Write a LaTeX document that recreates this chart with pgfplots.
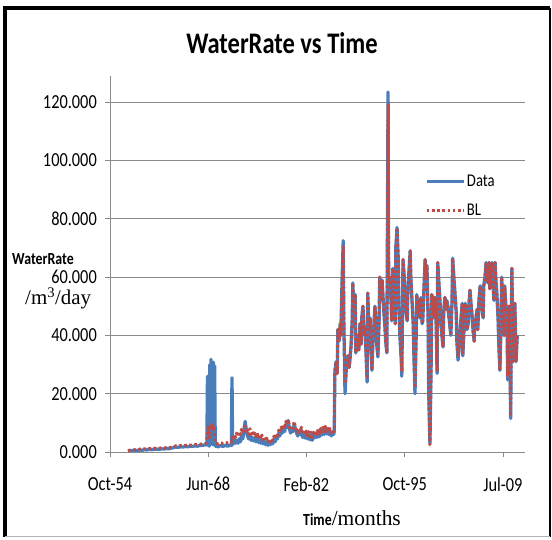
\documentclass[border=0pt]{standalone}
\usepackage{fontspec}
\setmainfont{Carlito}[FakeStretch=0.82]
\newfontfamily\serif{Liberation Serif}
\usepackage{pgfplots}
\pgfplotsset{compat=1.18}
\usepackage{pgfplotstable}

\definecolor{datablue}{HTML}{4A7EBB}
\definecolor{blred}{HTML}{BE4B48}
\definecolor{gridgray}{HTML}{898989}

% monthly water rate (m^3/day), months counted from Oct-54
\pgfplotstableread{
m data bl
30 0.3 0.5
34 0.5 0.6
38 0.4 0.7
42 0.6 0.8
46 0.5 0.8
50 0.7 1.0
54 0.6 0.9
58 0.8 1.1
62 0.7 1.0
66 0.9 1.2
70 0.8 1.1
74 0.9 1.3
78 1.0 1.2
82 0.9 1.3
86 1.1 1.4
90 1.0 1.3
94 1.2 1.5
98 1.1 1.4
102 1.3 1.6
106 1.5 1.9
110 1.7 2.1
114 1.6 2.0
118 1.8 2.2
122 1.7 2.1
126 1.9 2.3
130 1.8 2.2
134 2.0 2.4
138 1.9 2.3
142 2.1 2.5
146 2.0 2.5
150 2.2 2.6
154 2.3 2.8
158 2.4 2.9
161 2.5 3.0
162 2.4 4.5
163 26.0 7.5
164 2.2 8.5
165 25.0 6.5
166 2.0 5.0
167 30.0 8.5
168 2.5 9.0
169 31.8 8.0
170 3.0 9.5
171 30.5 8.5
172 2.5 8.0
173 30.8 9.0
174 3.0 7.5
175 29.5 5.0
176 2.0 3.5
177 2.0 3.0
181 1.8 2.8
185 2.2 3.2
189 1.9 2.9
193 2.3 3.3
197 2.0 3.1
201 2.4 3.4
203 2.2 3.3
204 25.5 5.0
205 2.5 4.0
206 3.0 4.5
208 4.5 6.0
210 3.0 5.0
212 4.0 6.5
214 3.0 5.5
216 4.5 7.0
218 3.5 6.0
220 5.5 7.8
222 4.5 6.8
224 7.0 8.5
226 10.5 8.8
228 7.5 7.0
230 5.5 8.0
232 4.5 6.0
234 6.0 8.0
236 4.0 6.0
238 5.0 7.0
240 3.8 5.5
242 4.8 6.5
244 3.5 5.2
246 4.8 6.5
248 3.3 4.8
250 4.3 6.0
252 3.0 4.5
254 4.2 5.8
256 2.8 4.2
258 3.8 5.2
260 2.5 3.8
262 3.5 4.8
264 2.3 3.5
266 3.3 4.5
268 2.5 3.5
270 3.5 4.6
272 2.8 4.0
274 4.2 5.4
276 3.5 4.5
278 5.0 6.2
280 4.5 5.5
282 6.5 7.5
284 5.5 6.5
286 7.5 8.5
288 6.5 7.5
290 8.5 9.5
292 7.0 8.0
294 9.5 10.5
296 8.5 9.5
298 10.8 11.2
300 8.0 8.5
302 6.5 7.5
304 8.0 9.0
306 7.0 8.0
308 9.5 10.5
310 8.0 8.5
312 6.5 7.5
314 5.5 6.5
316 7.0 8.0
318 6.0 7.0
320 7.5 8.5
322 5.0 6.0
324 6.5 7.5
326 4.8 5.8
328 6.2 7.2
330 4.5 5.5
332 6.0 7.0
334 4.2 5.2
336 5.8 6.8
338 4.0 5.0
340 6.0 6.8
342 4.8 5.8
344 6.5 7.2
346 5.0 6.0
348 7.0 7.8
350 5.2 6.2
352 7.2 8.0
354 5.8 6.8
356 7.8 8.5
358 6.0 7.0
360 8.2 8.8
362 6.2 7.0
364 7.8 8.5
366 6.0 7.0
368 7.2 8.0
370 5.5 6.5
372 6.8 7.5
374 6.0 7.0
375 7.0 7.5
376 27.0 28.0
378 31.0 31.0
380 27.0 27.0
381 42.0 42.0
383 38.0 38.0
385 44.0 44.0
386 40.0 40.0
388 58.0 58.0
390 72.5 70.5
391 45.0 45.0
393 20.0 23.5
395 28.0 28.0
396 30.0 30.0
398 33.0 33.0
400 29.0 29.0
401 31.0 32.0
403 36.0 36.0
405 45.0 45.0
406 58.0 58.0
408 48.0 48.0
410 54.0 54.0
411 34.0 34.0
413 38.0 38.0
415 40.0 40.0
416 35.0 35.0
418 44.0 44.0
420 37.0 37.0
421 46.0 46.0
423 50.0 50.0
425 40.0 40.0
426 43.0 43.0
428 35.0 35.0
430 24.0 25.0
431 54.5 54.5
433 42.0 42.0
435 46.0 46.0
436 36.0 36.0
438 28.0 28.0
440 40.0 40.0
441 42.0 42.0
443 50.0 50.0
445 44.0 44.0
446 37.0 37.0
448 32.6 33.5
450 45.0 45.0
451 60.0 60.0
453 52.0 52.0
455 59.0 59.0
456 55.0 55.0
458 48.0 48.0
460 42.0 42.0
461 38.0 38.0
463 34.0 34.0
465 123.5 119.5
466 58.0 58.0
468 60.0 60.0
470 52.0 52.0
471 45.0 45.0
473 63.0 63.0
475 55.0 55.0
477 44.0 44.0
478 70.0 70.0
480 77.0 77.0
482 66.0 66.0
483 50.0 50.0
485 39.0 39.0
487 32.0 32.0
488 26.0 27.5
490 66.0 66.0
492 60.0 60.0
493 55.0 55.0
495 48.0 48.0
497 45.0 45.0
498 55.0 55.0
500 62.0 62.0
502 69.0 69.0
503 60.0 60.0
505 52.0 52.0
507 44.0 44.0
508 35.0 35.0
510 20.0 22.0
512 40.0 40.0
513 54.0 54.0
515 48.0 48.0
517 52.0 52.0
518 46.0 46.0
520 53.0 53.0
522 44.0 44.0
523 45.0 45.0
525 56.0 56.0
527 66.0 66.0
528 60.0 60.0
530 64.0 64.0
532 45.0 45.0
533 20.0 20.0
535 3.0 2.5
537 30.0 30.0
538 54.0 54.0
540 52.0 52.0
542 46.0 46.0
543 53.0 53.0
545 48.0 48.0
547 27.0 28.0
548 65.0 65.0
550 58.0 58.0
552 51.0 51.0
553 46.0 46.0
555 40.0 40.0
557 36.0 36.0
558 48.0 48.0
560 53.0 53.0
562 49.0 49.0
563 52.0 52.0
565 50.0 50.0
567 46.0 46.0
568 44.0 44.0
570 40.0 40.0
572 52.0 52.0
573 66.5 66.5
575 60.0 60.0
577 54.0 54.0
579 48.0 48.0
580 38.0 38.0
582 31.5 33.0
584 36.0 36.0
585 40.5 40.5
587 46.0 46.0
589 51.0 51.0
590 33.0 34.0
592 42.0 42.0
594 51.0 51.0
595 47.0 47.0
597 42.0 42.0
599 44.0 44.0
600 50.0 50.0
602 55.5 55.5
604 50.0 50.0
605 48.0 48.0
607 42.0 42.0
609 38.0 38.0
610 44.0 44.0
612 46.0 46.0
614 49.0 49.0
615 42.0 42.0
617 52.0 52.0
619 57.0 57.0
620 53.0 53.0
622 49.0 49.0
624 46.0 46.0
625 57.0 57.0
627 60.0 60.0
629 65.0 65.0
630 60.0 60.0
632 58.0 58.0
634 65.0 65.0
635 56.0 56.0
637 62.0 62.0
639 65.0 65.0
640 60.0 60.0
642 52.0 52.0
644 65.0 65.0
645 60.0 60.0
647 54.0 54.0
649 46.0 46.0
650 38.0 38.0
652 28.0 28.0
654 45.0 45.0
655 60.0 60.0
657 48.0 48.0
659 40.0 40.0
660 57.0 57.0
662 50.0 50.0
664 44.0 44.0
665 24.7 26.0
667 50.0 50.0
669 30.0 30.0
670 11.5 13.0
672 63.0 63.0
674 31.0 31.0
675 45.0 45.0
677 51.0 51.0
679 31.0 31.0
681 40.0 40.0
}\waterrate

\begin{document}
\begin{tikzpicture}[x=1bp,y=1bp]
\path[use as bounding box] (0,0) rectangle (552,540);
% outer chart frame
\draw[black, line width=4bp] (5,3) -- (5,532) -- (550,532);
\draw[black, line width=1.2bp] (550,532) -- (550,3);
\draw[gray!60, line width=1bp] (5,3) -- (550,3);
\begin{axis}[
  at={(110bp,88bp)}, anchor=south west,
  scale only axis, width=415bp, height=376bp,
  xmin=0, xmax=694, ymin=0, ymax=129,
  axis lines=left,
  axis line style={-, draw=gridgray, line width=0.8bp},
  ytick={0,20,40,60,80,100,120},
  yticklabels={0.000,20.000,40.000,60.000,80.000,100.000,120.000},
  xtick={0,164.27,328.54,492.81,657.08},
  xticklabels={Oct-54,Jun-68,Feb-82,Oct-95,Jul-09},
  tick align=outside, major tick length=5bp,
  tick style={draw=gridgray, line width=0.8bp},
  ymajorgrids, grid style={draw=gridgray, line width=0.8bp},
  ticklabel style={font=\fontsize{20}{24}\selectfont, inner sep=0pt},
  yticklabel style={anchor=east, xshift=-8bp},
  xticklabel style={anchor=north, yshift=-20bp},
  legend style={draw=none, fill=none, at={(0.759,0.681)}, anchor=west,
    font=\fontsize{18}{21}\selectfont, row sep=13bp, inner sep=0pt,
    nodes={inner sep=1.5bp}},
  legend cell align=left,
  legend image code/.code={\draw[#1] (0bp,0bp) -- (37bp,0bp);},
]
\addplot[datablue, line width=3.3bp, line join=round]
  table[x=m, y=data]{\waterrate};
\addlegendentry{Data}
\addplot[blred, line width=3bp, dash pattern=on 2.6bp off 2.6bp, line join=round]
  table[x=m, y=bl]{\waterrate};
\addlegendentry{BL}
\end{axis}
\node[anchor=base, inner sep=0pt, font=\bfseries\fontsize{30}{36}\selectfont] at (282,486) {WaterRate vs Time};
\node[anchor=base west, inner sep=0pt, font=\bfseries\fontsize{17}{20}\selectfont] at (12,275) {WaterRate};
\node[anchor=base west, inner sep=0pt, font=\serif\fontsize{21}{25}\selectfont] at (25,235) {/m\textsuperscript{3}/day};
\node[anchor=base west, inner sep=0pt] at (303,14) {{\bfseries\fontsize{17}{20}\selectfont Time}{\serif\fontsize{21.5}{25}\selectfont /months}};
\end{tikzpicture}
\end{document}
